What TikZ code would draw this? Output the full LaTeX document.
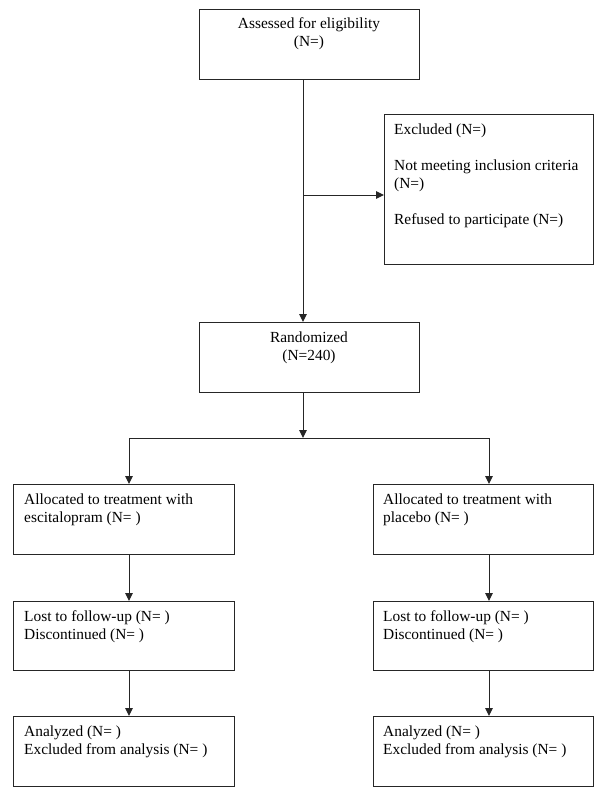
\documentclass[tikz,border=0pt]{standalone}
\usepackage{fontspec}
\setmainfont{Liberation Serif}
\usetikzlibrary{arrows.meta}
\begin{document}
\begin{tikzpicture}[x=1bp,y=-1bp,
  box/.style={draw=black!85,line width=1bp,rectangle,inner sep=0pt,anchor=north west},
  txt/.style={inner sep=0pt,anchor=base west,font=\fontsize{15.4bp}{18bp}\selectfont},
  ctxt/.style={inner sep=0pt,anchor=base,font=\fontsize{15.4bp}{18bp}\selectfont},
  conn/.style={line width=1bp,draw=black!85},
  arr/.style={conn,-{Triangle[length=8bp,width=7.5bp]}}]
\useasboundingbox (0,0) rectangle (600,801);
% boxes
\node[box,minimum width=220bp,minimum height=70bp] (assess) at (199,9) {};
\node[box,minimum width=209bp,minimum height=150bp] (excl) at (384,114) {};
\node[box,minimum width=220bp,minimum height=70bp] (rand) at (199,322) {};
\node[box,minimum width=221bp,minimum height=70bp] (allocL) at (13,484) {};
\node[box,minimum width=220bp,minimum height=70bp] (allocR) at (373,484) {};
\node[box,minimum width=221bp,minimum height=69bp] (lostL) at (13,601) {};
\node[box,minimum width=220bp,minimum height=69bp] (lostR) at (373,601) {};
\node[box,minimum width=221bp,minimum height=70bp] (anaL) at (13,716) {};
\node[box,minimum width=220bp,minimum height=70bp] (anaR) at (373,716) {};
% texts
\node[ctxt] (t1) at (309,29) {Assessed for eligibility};
\node[ctxt] (t2) at (309,47) {(N=)};
\node[txt] (t3) at (394,134) {Excluded (N=)};
\node[txt] (t4) at (394,170) {Not meeting inclusion criteria};
\node[txt] (t5) at (394,188) {(N=)};
\node[txt] (t6) at (394,224) {Refused to participate (N=)};
\node[ctxt] (t7) at (309,342) {Randomized};
\node[ctxt] (t8) at (309,360) {(N=240)};
\node[txt] (t9) at (24,504) {Allocated to treatment with};
\node[txt] (t10) at (24,522) {escitalopram (N= )};
\node[txt] (t11) at (383,504) {Allocated to treatment with};
\node[txt] (t12) at (383,522) {placebo (N= )};
\node[txt] (t13) at (24,621) {Lost to follow-up (N= )};
\node[txt] (t14) at (24,639) {Discontinued (N= )};
\node[txt] (t15) at (383,621) {Lost to follow-up (N= )};
\node[txt] (t16) at (383,639) {Discontinued (N= )};
\node[txt] (t17) at (24,736) {Analyzed (N= )};
\node[txt] (t18) at (24,754) {Excluded from analysis (N= )};
\node[txt] (t19) at (383,736) {Analyzed (N= )};
\node[txt] (t20) at (383,754) {Excluded from analysis (N= )};
% connectors
\coordinate (a0) at (303,79);
\coordinate (a1) at (303,322);
\coordinate (br) at (303,195);
\coordinate (r0) at (303,392);
\coordinate (split) at (303,438);
\coordinate (sl) at (129,438);
\coordinate (sr) at (489,438);
\draw[arr] (a0) -- (a1);
\draw[arr] (br) -- (excl.west |- br);
\draw[arr] (r0) -- (split);
\draw[conn] (sl) -- (sr);
\draw[arr] (sl) -- (sl |- allocL.north);
\draw[arr] (sr) -- (sr |- allocR.north);
\draw[arr] (sl |- allocL.south) -- (sl |- lostL.north);
\draw[arr] (sr |- allocR.south) -- (sr |- lostR.north);
\draw[arr] (sl |- lostL.south) -- (sl |- anaL.north);
\draw[arr] (sr |- lostR.south) -- (sr |- anaR.north);
\end{tikzpicture}
\end{document}
